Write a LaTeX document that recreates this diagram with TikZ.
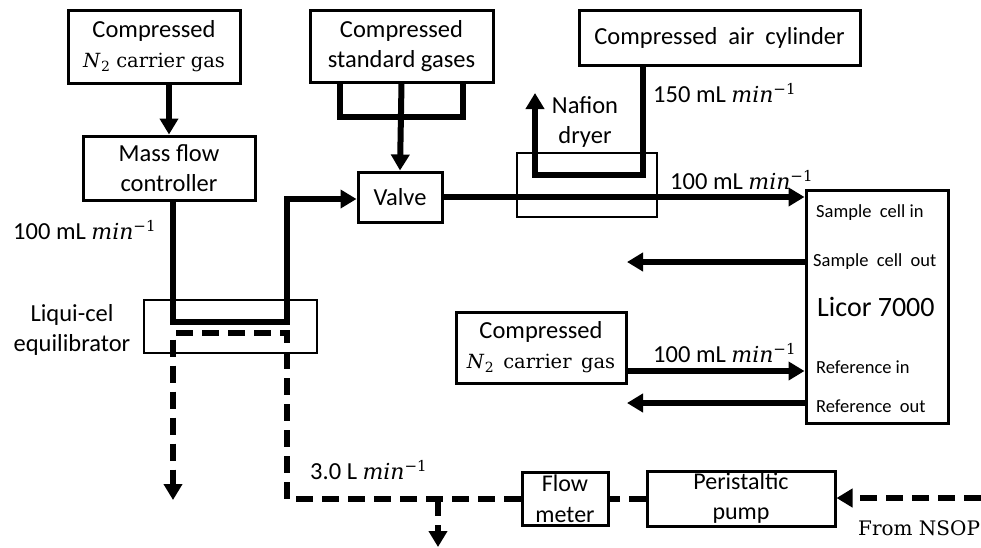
\documentclass[tikz,border=0pt]{standalone}
\usepackage{fontspec}
\setmainfont{Carlito}
\newfontfamily\serifx{DejaVu Serif}
\usetikzlibrary{arrows.meta}
\newcommand{\perminute}{{\serifx\fontsize{22}{26}\selectfont\textit{min}\raisebox{0.75ex}{\fontsize{15}{15}\selectfont −1}}}
\newcommand{\Ntwo}{{\serifx\textit{N}\kern0.5pt\raisebox{-0.35ex}{\fontsize{14}{14}\selectfont 2}}}
\newcommand{\cgasA}{{\serifx\fontsize{19.5}{25}\selectfont\Ntwo\ carrier gas}}
\newcommand{\cgasB}{{\serifx\fontsize{19.5}{25}\selectfont\Ntwo\ \,carrier\ \,gas}}
\tikzset{
  box/.style={draw, line width=3pt, inner sep=0pt, align=center, font=\fontsize{24.5}{30}\selectfont},
  thinbox/.style={draw, line width=2.5pt, inner sep=0pt},
  pipe/.style={line width=6pt},
  flow/.style={line width=6pt, -{Triangle[length=16pt,width=18pt]}},
  water/.style={line width=6pt, dash pattern=on 17pt off 9pt},
  waterflow/.style={water, -{Triangle[length=16pt,width=18pt]}},
  lbl/.style={inner sep=0pt, anchor=west, font=\fontsize{24.5}{30}\selectfont},
  port/.style={inner sep=0pt, anchor=west, font=\fontsize{18.5}{22}\selectfont},
}
\begin{document}
\begin{tikzpicture}[x=1pt, y=-1pt]
\useasboundingbox (0,0) rectangle (981,547);

% boxes
\node[box, minimum width=172pt, minimum height=73pt] (n2a) at (154,46.5) {Compressed\\\cgasA};
\node[box, minimum width=172pt, minimum height=64pt] (mfc) at (169,168) {Mass flow\\controller};
\node[box, minimum width=183pt, minimum height=72pt] (stdg) at (401.5,46) {Compressed\\standard gases};
\node[box, minimum width=281pt, minimum height=55pt] (air) at (719.5,37.5) {Compressed\ \ air\ \ cylinder};
\node[box, minimum width=84pt, minimum height=50pt] (valve) at (400,197) {Valve};
\node[thinbox, minimum width=140pt, minimum height=64pt] (naf) at (587,185) {};
\node[thinbox, minimum width=173pt, minimum height=53pt] (liq) at (230.5,326.5) {};
\node[box, minimum width=142pt, minimum height=233pt] (licor) at (877,306.5) {};
\node[box, minimum width=170pt, minimum height=71pt] (n2b) at (541,347.5) {Compressed\\\cgasB};
\node[box, minimum width=86pt, minimum height=53pt, font=\fontsize{24}{31}\selectfont] (fm) at (565,498.5) {Flow\\meter};
\node[box, minimum width=188pt, minimum height=55pt, font=\fontsize{24}{30}\selectfont] (pump) at (741,498.5) {Peristaltic\\pump};

% labels
\node[lbl, anchor=center, align=center] (nafl) at (585,122) {Nafion\\dryer};
\node[lbl, anchor=center, align=center] (liql) at (72,330) {Liqui-cel\\equilibrator};
\node[lbl] (f1) at (13,230) {100 mL \perminute};
\node[lbl] (f2) at (653,93) {150 mL \perminute};
\node[lbl] (f3) at (670,180) {100 mL \perminute};
\node[lbl] (f4) at (653,353) {100 mL \perminute};
\node[lbl] (f5) at (310,470) {3.0 L \perminute};
\node[lbl, font=\serifx\fontsize{20}{24}\selectfont] (nsop) at (858,528) {From NSOP};

% Licor ports
\node[port] (p1) at (816,213) {Sample\ \ cell in};
\node[port] (p2) at (813,262) {Sample\ \ cell\ \ out};
\node[port, font=\fontsize{28}{32}\selectfont] (p3) at (817,307) {Licor 7000};
\node[port] (p4) at (816,367) {Reference in};
\node[port] (p5) at (816,406) {Reference\ \ out};

% coordinates
\coordinate (l1) at (173,322);
\coordinate (l2) at (287,322);
\coordinate (l3) at (287,199);
\coordinate (b1) at (340,117);
\coordinate (b2) at (463,117);
\coordinate (a1) at (643,175);
\coordinate (a2) at (535,175);
\coordinate (a3) at (535,93);
\coordinate (so) at (627,262);
\coordinate (ri) at (626,371);
\coordinate (ro) at (627,403);
\coordinate (d1) at (287,499);
\coordinate (d2) at (287,333);
\coordinate (d3) at (173,333);
\coordinate (d4) at (173,500);
\coordinate (t1) at (438,499);
\coordinate (t2) at (438,547);
\coordinate (src) at (981,498);

% gas connectors
\draw[flow] (n2a.south -| mfc.north) -- (mfc.north);
\draw[flow] (mfc.south -| l1) -- (l1) -- (l2) -- (l3) -- (l3 -| valve.west);
\draw[pipe] (b1 |- stdg.south) -- (b1) -- (b2) -- (b2 |- stdg.south);
\draw[flow] (stdg.south) -- (valve.north);
\draw[flow] (a1 |- air.south) -- (a1) -- (a2) -- (a3);
\draw[flow] (valve.east) -- (valve.east -| licor.west);
\draw[flow] (so -| licor.west) -- (so);
\draw[flow] (ri) -- (ri -| licor.west);
\draw[flow] (ro -| licor.west) -- (ro);

% water connectors
\draw[waterflow] (fm.west |- d1) -- (d1) -- (d2) -- (d3) -- (d4);
\draw[waterflow] (t1) -- (t2);
\draw[water] (pump.west |- fm.east) -- (fm.east);
\draw[waterflow] (src) -- (src -| pump.east);
\end{tikzpicture}
\end{document}
